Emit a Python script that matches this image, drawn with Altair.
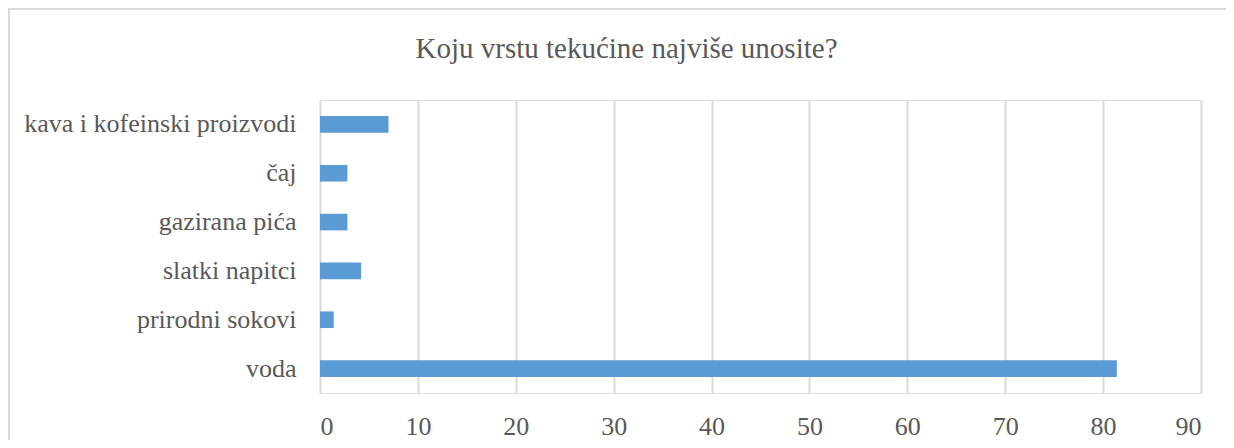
import altair as alt
import pandas as pd

categories = ["kava i kofeinski proizvodi", "čaj", "gazirana pića",
              "slatki napitci", "prirodni sokovi", "voda"]
values = [7.0, 2.8, 2.8, 4.2, 1.4, 81.4]
x_ticks = [0, 10, 20, 30, 40, 50, 60, 70, 80, 90]
title_text = "Koju vrstu tekućine najviše unosite?"

df = pd.DataFrame({"kategorija": categories, "postotak": values})

FONT = "Liberation Serif"
TEXT = "#595959"
GRID = "#d9d9d9"

bars = alt.Chart(df).mark_bar(color="#5b9bd5").encode(
    x=alt.X("postotak:Q",
            scale=alt.Scale(domain=[0, 90], nice=False),
            axis=alt.Axis(values=x_ticks, title=None, grid=True, gridColor=GRID,
                          gridWidth=2, domain=False, ticks=False,
                          labelFont=FONT, labelFontSize=26, labelColor=TEXT,
                          labelPadding=20)),
    y=alt.Y("kategorija:N", sort=categories,
            scale=alt.Scale(paddingInner=0.66, paddingOuter=0.33),
            axis=alt.Axis(title=None, domain=False, ticks=False, grid=False,
                          labelFont=FONT, labelFontSize=26, labelColor=TEXT,
                          labelPadding=24, labelLimit=0)),
)

frame = alt.Chart(alt.Data(values=[{}])).mark_rect(
    fill="transparent", stroke=GRID, strokeWidth=2
).encode(
    x=alt.value(-311), x2=alt.value(950),
    y=alt.value(-91), y2=alt.value(400),
)

chart = alt.layer(frame, bars).properties(
    width=881, height=293,
    autosize=alt.AutoSizeParams(type="none"),
    padding={"left": 312, "top": 92, "right": 25, "bottom": 47},
    title=alt.TitleParams(title_text, font=FONT, fontSize=29, fontWeight="normal",
                          color=TEXT, anchor="middle", frame="group",
                          dx=-134, offset=0, dy=79, baseline="alphabetic"),
).configure_view(stroke=None).configure(background="white")

chart.save("out.html", embed_options={"renderer": "svg", "actions": False})
